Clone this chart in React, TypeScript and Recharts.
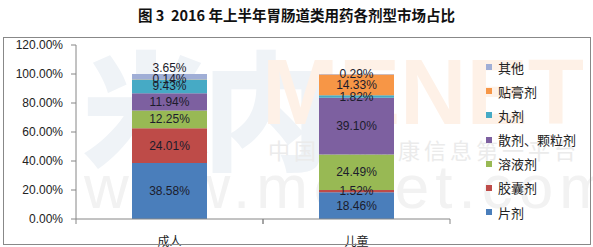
import React from 'react';
import { BarChart, Bar, XAxis, YAxis, LabelList } from 'recharts';

const categories = ['成人', '儿童'];
const seriesNames = ['片剂', '胶囊剂', '溶液剂', '散剂、颗粒剂', '丸剂', '贴膏剂', '其他'];
const adultShares = [38.58, 24.01, 12.25, 11.94, 9.43, 0.14, 3.65];
const childShares = [18.46, 1.52, 24.49, 39.1, 1.82, 14.33, 0.29];
const seriesColors = ['#4A7EBB', '#BE4B48', '#98B954', '#7D60A0', '#46AAC5', '#F79646', '#A0AED6'];
const yTicks = [0, 20, 40, 60, 80, 100, 120];
const chartTitle = '图 3  2016 年上半年胃肠道类用药各剂型市场占比';

const valuesByCategory = [adultShares, childShares];
const data = categories.map((name, ci) => {
  const row: Record<string, number | string> = { name };
  seriesNames.forEach((s, si) => {
    row['s' + si] = valuesByCategory[ci][si];
  });
  return row;
});

const W = 593;
const H = 247;
const PLOT_LEFT = 76;
const PLOT_RIGHT = 450;
const PLOT_TOP = 45;
const PLOT_BOTTOM = 219;
const BAND = (PLOT_RIGHT - PLOT_LEFT) / categories.length;
const AXIS_COLOR = '#868686';
const LABEL_FONT = '"Liberation Sans", Arial, sans-serif';
const CJK_FONT = '"Noto Sans CJK SC", "Noto Sans", sans-serif';

const CategoryTick = (props: any) => {
  const { x, payload } = props;
  const half = BAND / 2;
  return (
    <g>
      <line x1={x - half} x2={x - half} y1={PLOT_BOTTOM} y2={PLOT_BOTTOM + 5} stroke={AXIS_COLOR} />
      <line x1={x + half} x2={x + half} y1={PLOT_BOTTOM} y2={PLOT_BOTTOM + 5} stroke={AXIS_COLOR} />
      <text
        x={x}
        y={240}
        textAnchor="middle"
        dominantBaseline="central"
        fontFamily={CJK_FONT}
        fontSize={12}
        fill="#222"
      >
        {payload.value}
      </text>
    </g>
  );
};

const makeLabel = (si: number) => (props: any) => {
  const { x, y, width, height, value, index } = props;
  const cx = Number(x) + Number(width) / 2;
  let cy = Number(y) + Number(height) / 2;
  // "其他" label of the adult bar sits above the bar top in the reference
  if (si === seriesNames.length - 1 && index === 0) {
    cy = Number(y) - 6;
  }
  return (
    <text
      x={cx}
      y={cy}
      textAnchor="middle"
      dominantBaseline="central"
      fontFamily={LABEL_FONT}
      fontSize={12}
      fill="#1c1c2c"
    >
      {Number(value).toFixed(2) + '%'}
    </text>
  );
};

const Watermark = () => (
  <div style={{ position: 'absolute', left: 0, top: 0, width: W, height: H, overflow: 'hidden' }}>
    <div
      style={{
        position: 'absolute',
        left: 82,
        top: 30,
        fontFamily: CJK_FONT,
        fontWeight: 900,
        fontSize: 128,
        lineHeight: '150px',
        color: '#EFF3F7',
        letterSpacing: -8,
      }}
    >
      米内
    </div>
    <div
      style={{
        position: 'absolute',
        left: 262,
        top: 42,
        fontFamily: '"Liberation Sans", sans-serif',
        fontWeight: 700,
        fontSize: 92,
        lineHeight: '100px',
        color: '#FEF1E7',
      }}
    >
      MENET
    </div>
    <div
      style={{
        position: 'absolute',
        left: 268,
        top: 136,
        fontFamily: CJK_FONT,
        fontSize: 22,
        lineHeight: '26px',
        color: '#EBEBEB',
        letterSpacing: 4,
      }}
    >
      中国医药健康信息第一平台
    </div>
    <div
      style={{
        position: 'absolute',
        left: 84,
        top: 152,
        fontFamily: '"Liberation Sans", sans-serif',
        fontSize: 62,
        lineHeight: '70px',
        color: '#F2F2F2',
        letterSpacing: 6,
      }}
    >
      www.menet.com.cn
    </div>
  </div>
);

const Legend = () => {
  const order = seriesNames.map((_, i) => i).reverse();
  return (
    <div style={{ position: 'absolute', left: 486, top: 55, width: 105 }}>
      {order.map((si) => (
        <div
          key={si}
          style={{
            display: 'flex',
            alignItems: 'center',
            height: 24.17,
            fontFamily: CJK_FONT,
            fontSize: 13,
            color: '#222',
            whiteSpace: 'nowrap',
          }}
        >
          <span
            style={{
              display: 'inline-block',
              width: 6,
              height: 6,
              background: seriesColors[si],
              marginRight: 6,
            }}
          />
          {seriesNames[si]}
        </div>
      ))}
    </div>
  );
};

export default function App() {
  return (
    <div style={{ position: 'absolute', left: 0, top: 0, width: W, height: H, background: '#fff', overflow: 'hidden' }}>
      <Watermark />
      <div
        style={{
          position: 'absolute',
          left: 0,
          top: 6,
          width: W,
          textAlign: 'center',
          fontFamily: '"Noto Sans CJK SC", sans-serif',
          fontWeight: 700,
          fontSize: 14.5,
          lineHeight: '18px',
          color: '#111',
          whiteSpace: 'pre',
        }}
      >
        {chartTitle}
      </div>
      <div style={{ position: 'absolute', left: 0, top: 0 }}>
        <BarChart
          width={W}
          height={H}
          data={data}
          margin={{ top: PLOT_TOP, right: W - PLOT_RIGHT, bottom: 0, left: 0 }}
        >
          <YAxis
            width={PLOT_LEFT}
            domain={[0, 120]}
            ticks={yTicks}
            interval={0}
            tickFormatter={(v: number) => v.toFixed(2) + '%'}
            axisLine={{ stroke: AXIS_COLOR }}
            tickLine={{ stroke: AXIS_COLOR }}
            tickSize={5}
            tickMargin={8}
            tick={{ fontFamily: LABEL_FONT, fontSize: 12, fill: '#222' }}
          />
          <XAxis
            dataKey="name"
            height={H - PLOT_BOTTOM}
            axisLine={{ stroke: AXIS_COLOR }}
            tickLine={false}
            tick={<CategoryTick />}
            interval={0}
          />
          {seriesNames.map((s, si) => (
            <Bar
              key={s}
              dataKey={'s' + si}
              name={s}
              stackId="a"
              fill={seriesColors[si]}
              barSize={75}
              isAnimationActive={false}
            >
              <LabelList dataKey={'s' + si} content={makeLabel(si)} />
            </Bar>
          ))}
        </BarChart>
      </div>
      <Legend />
      <div
        style={{
          position: 'absolute',
          left: 3,
          top: 37,
          width: 586,
          height: 206,
          border: '1px solid #888',
          pointerEvents: 'none',
        }}
      />
    </div>
  );
}
